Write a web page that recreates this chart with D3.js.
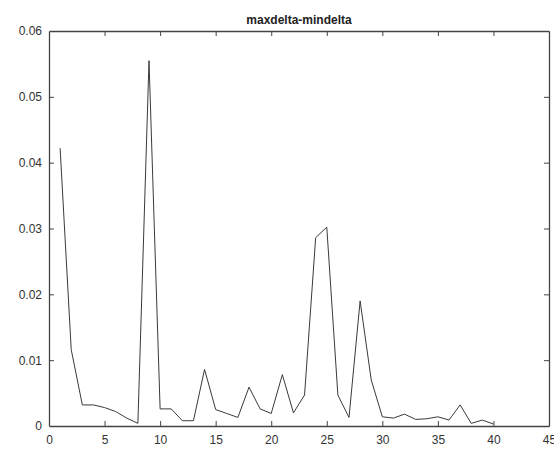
<!DOCTYPE html>
<html>
<head>
<meta charset="utf-8">
<script src="https://cdn.jsdelivr.net/npm/d3@7"></script>
<style>
  body { margin: 0; background: #fff; }
  text { font-family: "Liberation Sans", Arial, sans-serif; }
</style>
</head>
<body>
<div id="chart"></div>
<script>
const TITLE = "maxdelta-mindelta"
const xs = d3.range(1, 41)
const deltas = [0.0422, 0.0116, 0.0032, 0.0032, 0.0028, 0.0022, 0.0012, 0.0004, 0.0555, 0.0026,
    0.0026, 0.0008, 0.0008, 0.0086, 0.0025, 0.0019, 0.0013, 0.0059, 0.0026, 0.0019,
    0.0078, 0.0020, 0.0047, 0.0286, 0.0302, 0.0047, 0.0013, 0.0190, 0.0070, 0.0014,
    0.0012, 0.0018, 0.0010, 0.0011, 0.0014, 0.0009, 0.0032, 0.0004, 0.0009, 0.0003]
const xTicks = d3.range(0, 46, 5)
const yTicks = [0, 0.01, 0.02, 0.03, 0.04, 0.05, 0.06]

let width = 554, height = 450
let margin = {top: 31, right: 5, bottom: 24, left: 49}

let svg = d3.select("#chart").append("svg").attr("width", width).attr("height", height)

let x = d3.scaleLinear().domain([0, 45]).range([margin.left, width - margin.right])
let y = d3.scaleLinear().domain([0, 0.06]).range([height - margin.bottom, margin.top])

const AXIS_COLOR = "#444"
const TEXT_COLOR = "#333"

// axes with inward ticks, MATLAB style box
let gBottom = svg.append("g").attr("transform", `translate(0,${y(0)})`)
    .call(d3.axisBottom(x).tickValues(xTicks).tickSizeInner(-5).tickSizeOuter(0).tickPadding(9))
let gTop = svg.append("g").attr("transform", `translate(0,${y(0.06)})`)
    .call(d3.axisTop(x).tickValues(xTicks).tickSizeInner(-5).tickSizeOuter(0).tickFormat(""))
let gLeft = svg.append("g").attr("transform", `translate(${x(0)},0)`)
    .call(d3.axisLeft(y).tickValues(yTicks).tickSizeInner(-5).tickSizeOuter(0).tickPadding(7)
        .tickFormat(d => d === 0 ? "0" : d3.format(".2f")(d)))
let gRight = svg.append("g").attr("transform", `translate(${x(45)},0)`)
    .call(d3.axisRight(y).tickValues(yTicks).tickSizeInner(-5).tickSizeOuter(0).tickFormat(""))

svg.selectAll(".domain").attr("stroke", AXIS_COLOR).attr("stroke-width", 1.3)
svg.selectAll(".tick line").attr("stroke", AXIS_COLOR)
svg.selectAll(".tick text").attr("fill", TEXT_COLOR).attr("font-size", "12px")
    .attr("font-family", "'Liberation Sans', Arial, sans-serif")

// no tick marks on the box corners
svg.selectAll(".tick").filter(d => d === 0 || d === 45 || d === 0.06).select("line").remove()

let line = d3.line().x((d, i) => x(xs[i])).y(d => y(d))
svg.append("path").datum(deltas).attr("d", line)
    .attr("fill", "none").attr("stroke", "#3a3a3a").attr("stroke-width", 1)

svg.append("text").text(TITLE)
    .attr("x", (x(0) + x(45)) / 2).attr("y", 24)
    .attr("text-anchor", "middle").attr("font-size", "12px").attr("font-weight", "bold")
    .attr("fill", "#222")
</script>
</body>
</html>
